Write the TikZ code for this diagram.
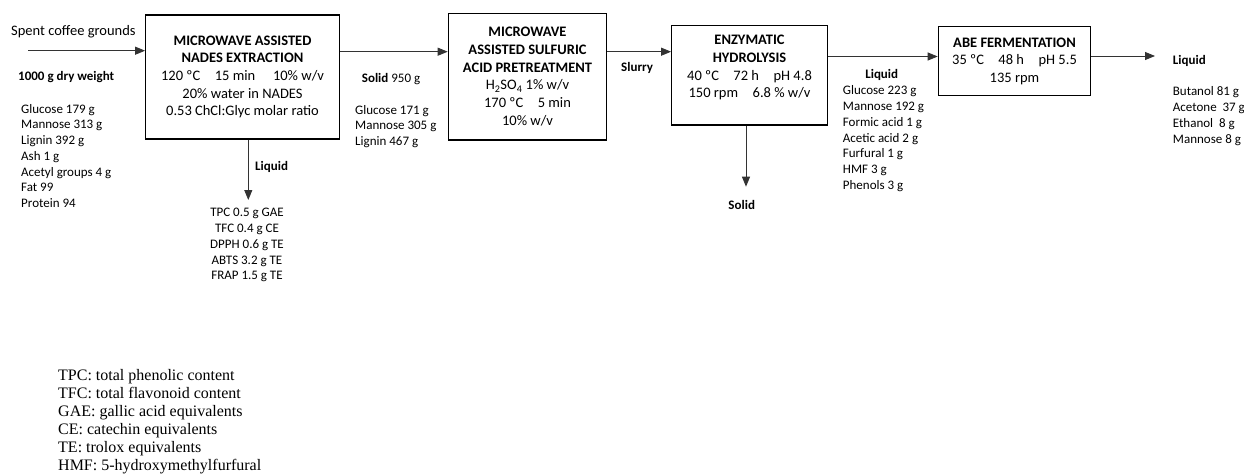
\documentclass[tikz,border=0pt]{standalone}
\usepackage{fontspec}
\setmainfont{Carlito}
\newfontfamily\legendfont{Liberation Serif}
\usetikzlibrary{arrows.meta}

\begin{document}
\begin{tikzpicture}[x=1pt,y=-1pt,
		proc/.style={draw,line width=1.2pt,align=center,inner sep=0pt,font=\fontsize{14.5}{17.7}\selectfont},
		flow/.style={-{Triangle[length=10pt,width=8pt]},line width=0.9pt,black!80},
		lst/.style={align=left,inner sep=0pt,font=\fontsize{13}{15.7}\selectfont},
		tag/.style={inner sep=0pt,font=\fontsize{13}{15.7}\selectfont\bfseries}]
				\useasboundingbox (0,0) rectangle (1244,476);
				% the four process units
				\node[proc,minimum width=193.6pt,minimum height=124pt] (nades) at (242.5,77)
					{\textbf{MICROWAVE ASSISTED}\\ \textbf{NADES EXTRACTION}\\ 120 ºC\quad 15 min\quad\ 10\% w/v\\ 20\% water in NADES\\ 0.53 ChCl:Glyc molar ratio};
				\node[proc,minimum width=158.4pt,minimum height=126.7pt] (sulf) at (527.5,76.7)
					{\textbf{MICROWAVE}\\ \textbf{ASSISTED SULFURIC}\\ \textbf{ACID PRETREATMENT}\\ H\textsubscript{2}SO\textsubscript{4} 1\% w/v\\ 170 ºC\quad 5 min\\ 10\% w/v};
				\node[proc,minimum width=155.6pt,minimum height=99.3pt] (hydro) at (749.5,75.3)
					{\textbf{ENZYMATIC}\\ \textbf{HYDROLYSIS}\\ 40 ºC\quad 72 h\quad pH 4.8\\ 150 rpm\quad 6.8 \% w/v\\ \mbox{}};
				\node[proc,minimum width=152.4pt,minimum height=69pt] (abe) at (1014.5,61.2)
					{\textbf{ABE FERMENTATION}\\ 35 ºC\quad 48 h\quad pH 5.5\\ 135 rpm};
				% stream levels and free ends
				\coordinate (feed) at (28,50.7);
				\coordinate (row1) at (0,51.7);
				\coordinate (row2) at (0,56.5);
				\coordinate (prod) at (1155,56);
				\coordinate (extract) at (248.3,200);
				\coordinate (residue) at (746,186.7);
				\draw[flow] (feed) -- (feed -| nades.west);
				\draw[flow] (nades.east |- row1) -- (sulf.west |- row1);
				\draw[flow] (sulf.east |- row1) -- (hydro.west |- row1);
				\draw[flow] (hydro.east |- row2) -- (abe.west |- row2);
				\draw[flow] (abe.east |- prod) -- (prod);
				\draw[flow] (nades.south -| extract) -- (extract);
				\draw[flow] (hydro.south -| residue) -- (residue);
				% feedstock
				\node[anchor=west,inner sep=0pt,font=\fontsize{14.5}{17.7}\selectfont] (sfg) at (11,32) {Spent coffee grounds};
				\node[tag,anchor=west] (dry) at (18,77) {1000 g dry weight};
				\node[lst,anchor=north west] (feedcomp) at (21,104)
					{Glucose 179 g\\ Mannose 313 g\\ Lignin 392 g\\ Ash 1 g\\ Acetyl groups 4 g\\ Fat 99\\ Protein 94};
				% extract
				\node[tag,anchor=west] (liq1) at (255,167) {Liquid};
				\node[lst,align=center,anchor=north] (extcomp) at (247,208.3)
					{TPC 0.5 g GAE\\ TFC 0.4 g CE\\ DPPH 0.6 g TE\\ ABTS 3.2 g TE\\ FRAP 1.5 g TE};
				% extracted solid
				\node[lst,anchor=west] (sol1) at (361.7,79) {\textbf{Solid} 950 g};
				\node[lst,anchor=north west] (solcomp) at (355,105)
					{Glucose 171 g\\ Mannose 305 g\\ Lignin 467 g};
				\node[tag,anchor=west] (slurry) at (621,67.7) {Slurry};
				% hydrolysate
				\node[tag] (sol2) at (741.7,205) {Solid};
				\node[tag] (liq2) at (881.7,75) {Liquid};
				\node[lst,anchor=north west] (hydcomp) at (842.7,85.7)
					{Glucose 223 g\\ Mannose 192 g\\ Formic acid 1 g\\ Acetic acid 2 g\\ Furfural 1 g\\ HMF 3 g\\ Phenols 3 g};
				% fermentation broth
				\node[tag,anchor=west] (liq3) at (1172.7,60.7) {Liquid};
				\node[lst,anchor=north west] (abecomp) at (1172.7,86.7)
					{Butanol 81 g\\ Acetone\ \ 37 g\\ Ethanol\ \ 8 g\\ Mannose 8 g};
				% abbreviations
				\node[anchor=north west,align=left,inner sep=0pt,font=\legendfont\fontsize{16}{18}\selectfont] (abbr) at (58,369)
					{TPC: total phenolic content\\ TFC: total flavonoid content\\ GAE: gallic acid equivalents\\ CE: catechin equivalents\\ TE: trolox equivalents\\ HMF: 5-hydroxymethylfurfural};
			\end{tikzpicture}
\end{document}
